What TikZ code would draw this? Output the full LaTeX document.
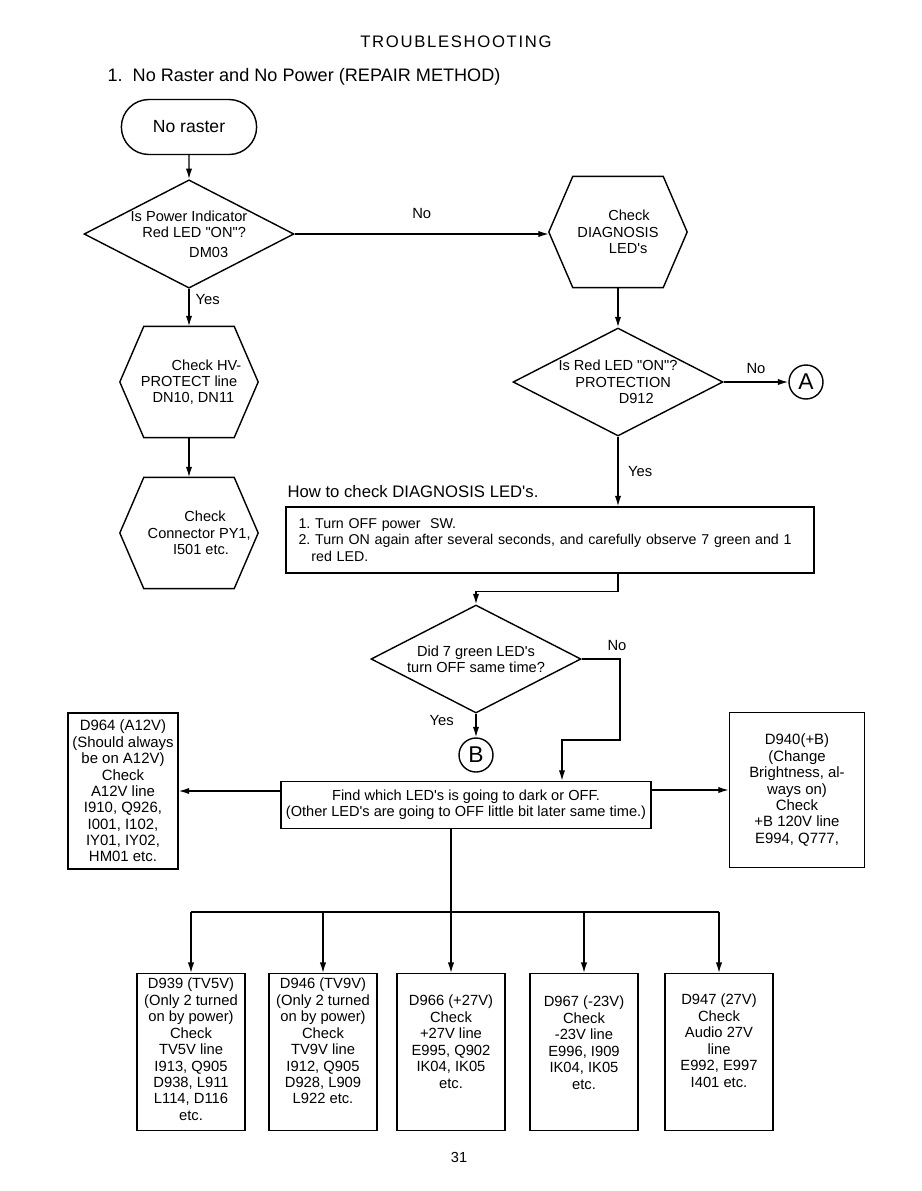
\documentclass[tikz,border=0pt]{standalone}
\usepackage{fontspec}
\setmainfont{Liberation Sans}[Ligatures=TeXOff]
\usetikzlibrary{arrows.meta,shapes.geometric,shapes.misc,positioning}

\tikzset{
  every node/.style={font=\fontsize{8.3}{9.3}\selectfont},
  flow/.style={-{Latex[length=6pt,width=3.6pt]}},
  startbox/.style={draw, rounded rectangle, minimum width=2.94cm, minimum height=1.1cm, font=\fontsize{10}{12}\selectfont},
  question/.style={draw, diamond, shape aspect=1.9, inner sep=0pt, minimum width=4.2cm, minimum height=2.16cm, align=center},
  hexnode/.style={minimum width=2.74cm, minimum height=2.2cm, inner sep=0pt, align=center},
  textbox/.style={draw, align=center, inner sep=1pt},
  colbox/.style={draw, anchor=north, minimum width=2.16cm, minimum height=3.14cm, inner sep=0pt, font=\fontsize{8.4}{9.35}\selectfont},
  goto/.style={draw, circle, minimum size=0.68cm, inner sep=0pt, font=\fontsize{13}{13}\selectfont},
  lbl/.style={font=\fontsize{8.4}{10}\selectfont}
}

% hexagon outline round a plain node
\newcommand{\hexframe}[1]{%
  \draw (#1.west) -- ([xshift=0.48cm]#1.north west) -- ([xshift=-0.48cm]#1.north east)
    -- (#1.east) -- ([xshift=-0.48cm]#1.south east) -- ([xshift=0.48cm]#1.south west) -- cycle;}
% text of the bottom boxes, hung from the top
\newcommand{\colbody}[2]{\parbox[c][2.96cm][t]{2.1cm}{\centering\vspace*{#1}#2}}

\begin{document}
\begin{tikzpicture}[x=0.02cm, y=-0.02cm, line width=0.8pt]
\useasboundingbox (0,0) rectangle (921,1191);

% headings
\node[font={\fontsize{9.5}{11}\selectfont\addfontfeature{LetterSpace=10}}] (ttl) at (456,42) {TROUBLESHOOTING};
\node[anchor=west, font=\fontsize{10.3}{12}\selectfont] (sub) at (101,77) {1.\ \ No Raster and No Power (REPAIR METHOD)};

% upper part
\node[startbox] (start) at (189,127) {No raster};
\node[question] (pwr) at (189,234) {Is Power Indicator\\\hspace*{0.7em}Red LED "ON"?\\[2pt]\hspace*{2.7em}DM03};
\node[hexnode] (diag) at (618,232) {\hspace*{1.5em}Check\\DIAGNOSIS\\\hspace*{1.4em}LED's};
\hexframe{diag}
\node[question] (prot) at (618,382) {Is Red LED "ON"?\\\hspace*{0.7em}PROTECTION\\\hspace*{2.5em}D912};
\node[goto] (ca) at (806,382) {A};
\node[hexnode] (hv) at (189,382) {\hspace*{2.4em}Check HV-\\PROTECT line\\\hspace*{0.6em}DN10, DN11};
\hexframe{hv}
\node[hexnode] (conn) at (189,533) {\hspace*{2.2em}Check\\\hspace*{1.4em}Connector PY1,\\\hspace*{1.65em}I501 etc.};
\hexframe{conn}

\draw[flow] (start) -- (pwr);
\draw[flow] (pwr.east) -- node[lbl, above=5pt] {No} (diag.west |- pwr.east);
\draw[flow] (pwr.south) -- node[lbl, right, pos=0.28] {Yes} (hv.north);
\draw[flow] (hv.south) -- (conn.north);
\draw[flow] (diag.south) -- (prot.north);
\draw[flow] (prot.east) -- node[lbl, above=1pt] {No} (ca.west);

% diagnosis LEDs
\node[anchor=west, font=\fontsize{9.5}{11}\selectfont] (howto) at (281,492) {How to check DIAGNOSIS LED's.};
\node[draw, text width=10.26cm, align=left, inner xsep=0.15cm, minimum height=1.32cm, font=\fontsize{8.1}{9.6}\selectfont] (steps) at (550,540)
  {\hspace*{0.1cm}1.\ Turn OFF power\ \ SW.\\\hspace*{0.1cm}2.\ Turn ON again after several seconds, and carefully observe 7 green and 1\\\hspace*{0.1cm}\hspace*{0.9em}red LED.};
\draw[flow] (prot.south) -- node[lbl, right=2pt] {Yes} (prot.south |- steps.north);

\node[question] (green) at (476,659) {Did 7 green LED's\\turn OFF same time?};
\draw[flow] (prot.south |- steps.south) -- ++(0,18) -| (green.north);
\node[goto] (cb) at (476,755) {B};
\draw[flow] (green.south) -- node[lbl, left=9pt, pos=0.3] {Yes} (cb.north);

\node[textbox, minimum width=7.4cm, minimum height=0.94cm] (find) at (466,805)
  {Find which LED's is going to dark or OFF.\\(Other LED's are going to OFF little bit later same time.)};
\coordinate (nA) at (620,659);
\coordinate (nB) at (620,740);
\coordinate (nC) at (562,740);
\draw[flow] (green.east) -- node[lbl, above=1pt, pos=0.92] {No} (nA) -- (nB) -- (nC) -- (nC |- find.north);

\node[textbox, minimum width=2.2cm, minimum height=3.12cm, font=\fontsize{8.5}{9.3}\selectfont] (a12) at (123,791)
  {D964 (A12V)\\(Should always\\be on A12V)\\Check\\A12V line\\I910, Q926,\\I001, I102,\\IY01, IY02,\\HM01 etc.};
\node[textbox, minimum width=2.7cm, minimum height=3.1cm, font=\fontsize{8.5}{9.3}\selectfont] (plusb) at (797,790)
  {D940(+B)\\(Change\\Brightness, al-\\ways on)\\Check\\+B 120V line\\E994, Q777,};
\draw[flow] (find.west |- a12.east) -- (a12.east);
\draw[flow] (find.east |- plusb.west) -- (plusb.west);

% supply lines
\node[colbox] (tv5) at (191,973) {\colbody{0pt}{D939 (TV5V)\\(Only 2 turned\\on by power)\\Check\\TV5V line\\I913, Q905\\D938, L911\\L114, D116\\etc.}};
\node[colbox] (tv9) at (323,973) {\colbody{0pt}{D946 (TV9V)\\(Only 2 turned\\on by power)\\Check\\TV9V line\\I912, Q905\\D928, L909\\L922 etc.}};
\node[colbox] (p27) at (451,973) {\colbody{0.34cm}{D966 (+27V)\\Check\\+27V line\\E995, Q902\\IK04, IK05\\etc.}};
\node[colbox] (m23) at (584,973) {\colbody{0.36cm}{D967 (-23V)\\Check\\-23V line\\E996, I909\\IK04, IK05\\etc.}};
\node[colbox] (a27) at (719,973) {\colbody{0.32cm}{D947 (27V)\\Check\\Audio 27V\\line\\E992, E997\\I401 etc.}};

\coordinate (bus) at (451,912);
\draw (find.south -| bus) -- (bus);
\draw (tv5.north |- bus) -- (a27.north |- bus);
\foreach \b in {tv5,tv9,p27,m23,a27}
  \draw[flow] (\b.north |- bus) -- (\b.north);

\node (pg) at (459,1157) {31};
\end{tikzpicture}
\end{document}
